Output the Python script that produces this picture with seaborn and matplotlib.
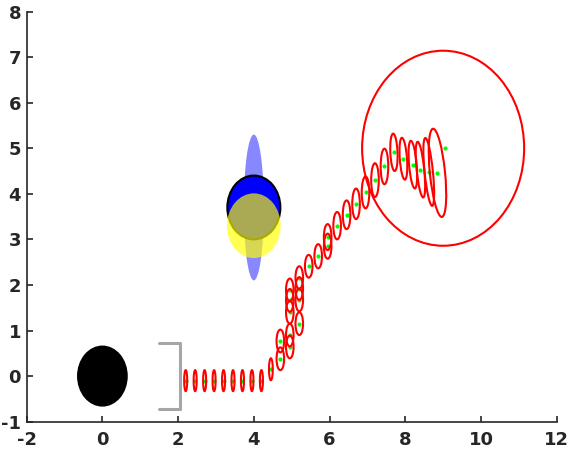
import numpy as np
import pandas as pd
import matplotlib
matplotlib.use("Agg")
import matplotlib.pyplot as plt
import seaborn as sns
from matplotlib.patches import Ellipse

sns.set_theme(style="ticks")
plt.rcParams['font.family'] = ['DejaVu Sans']
plt.rcParams['axes.unicode_minus'] = False

# ---- data ----
# estimated path (green dots) and the red uncertainty ellipse at each point
path_x = [2.2, 2.45, 2.7, 2.95, 3.2, 3.45, 3.7, 3.95, 4.2,
          4.45, 4.7, 4.7, 4.95, 4.95, 5.2, 4.95, 4.95, 4.95, 5.2, 5.2, 5.2,
          5.45, 5.7, 5.95, 5.95, 6.2, 6.45, 6.7, 6.95, 7.2, 7.45, 7.7,
          7.95, 8.2, 8.4, 8.62, 8.85]
path_y = [-0.1, -0.1, -0.1, -0.1, -0.1, -0.1, -0.1, -0.1, -0.1,
          0.15, 0.38, 0.77, 0.64, 0.90, 1.15, 1.40, 1.66, 1.89, 1.67, 1.92, 2.16,
          2.41, 2.63, 2.85, 3.05, 3.30, 3.54, 3.78, 4.03, 4.30, 4.60, 4.91,
          4.77, 4.64, 4.53, 4.48, 4.46]
ell_w = [0.08] * 9 + [0.1] + [0.2] * 21 + [0.19, 0.19, 0.2, 0.2, 0.22, 0.4]
ell_h = [0.46] * 9 + [0.48] + [0.5] * 11 + [0.5, 0.53, 0.55, 0.57, 0.6, 0.63, 0.67,
                                             0.7, 0.74, 0.78, 0.82, 0.92, 1.05, 1.23, 1.5, 1.95]
ell_ang = [0] * 31 + [3, 5, 6, 7, 7, 7]

# goal with its large circle
goal_x, goal_y, goal_r = 9.05, 5.0, 2.14

# robot (black disc) and the gray bracket
robot_x, robot_y, robot_r = 0.0, 0.0, 0.67
bracket_x = [1.5, 2.05, 2.05, 1.5]
bracket_y = [0.72, 0.72, -0.72, -0.72]

# landmark: elongated blue ellipse, blue disc, yellow disc
lm_x = 4.0
lm_blue_y, lm_blue_r = 3.7, 0.7
lm_yellow_y, lm_yellow_r = 3.3, 0.71
lm_ell_w, lm_ell_h = 0.53, 3.2

fig, ax = plt.subplots(figsize=(5.7, 4.5), dpi=100)
fig.subplots_adjust(left=0.0468, right=0.9767, bottom=0.063, top=0.9744)

# landmark
ax.add_patch(Ellipse((lm_x, lm_blue_y), lm_ell_w, lm_ell_h, facecolor='blue',
                     alpha=0.47, edgecolor='none', zorder=1))
ax.add_patch(Ellipse((lm_x, lm_blue_y), 2 * lm_blue_r, 2 * lm_blue_r,
                     facecolor='blue', edgecolor='black', linewidth=1.5, zorder=2))
ax.add_patch(Ellipse((lm_x, lm_yellow_y), 2 * lm_yellow_r, 2 * lm_yellow_r,
                     facecolor='yellow', alpha=0.67, edgecolor='none', zorder=3))

# robot and bracket
ax.add_patch(Ellipse((robot_x, robot_y), 2 * robot_r, 2 * robot_r,
                     facecolor='black', edgecolor='none', zorder=2))
ax.plot(bracket_x, bracket_y, color='#a6a6a6', linewidth=2.2, zorder=2)

# path dots + ellipses
pts = pd.DataFrame({'x': path_x + [goal_x], 'y': path_y + [goal_y]})
sns.scatterplot(data=pts, x='x', y='y', color=(0, 1, 0), s=9, linewidth=0,
                ax=ax, zorder=4)
for x, y, w, h, a in zip(path_x, path_y, ell_w, ell_h, ell_ang):
    ax.add_patch(Ellipse((x, y), w, h, angle=a, facecolor='none',
                         edgecolor='red', linewidth=1.5, zorder=5))
ax.add_patch(Ellipse((goal_x - 0.05, goal_y), 2 * goal_r, 2 * goal_r,
                     facecolor='none', edgecolor='red', linewidth=1.5, zorder=5))

ax.set_xlim(-2, 12)
ax.set_ylim(-1, 8)
ax.set_xticks(range(-2, 13, 2))
ax.set_yticks(range(-1, 9))
ax.set_xlabel('')
ax.set_ylabel('')
sns.despine(ax=ax)
for s in ['left', 'bottom']:
    ax.spines[s].set_color('#262626')
    ax.spines[s].set_linewidth(1.2)
ax.tick_params(direction='in', length=4.5, width=1.2, color='#262626',
               labelcolor='#262626', labelsize=13)
ax.tick_params(axis='x', pad=7)
ax.tick_params(axis='y', pad=4)
for lab in ax.get_xticklabels() + ax.get_yticklabels():
    lab.set_fontweight('bold')

fig.savefig('out.png', dpi=100)
